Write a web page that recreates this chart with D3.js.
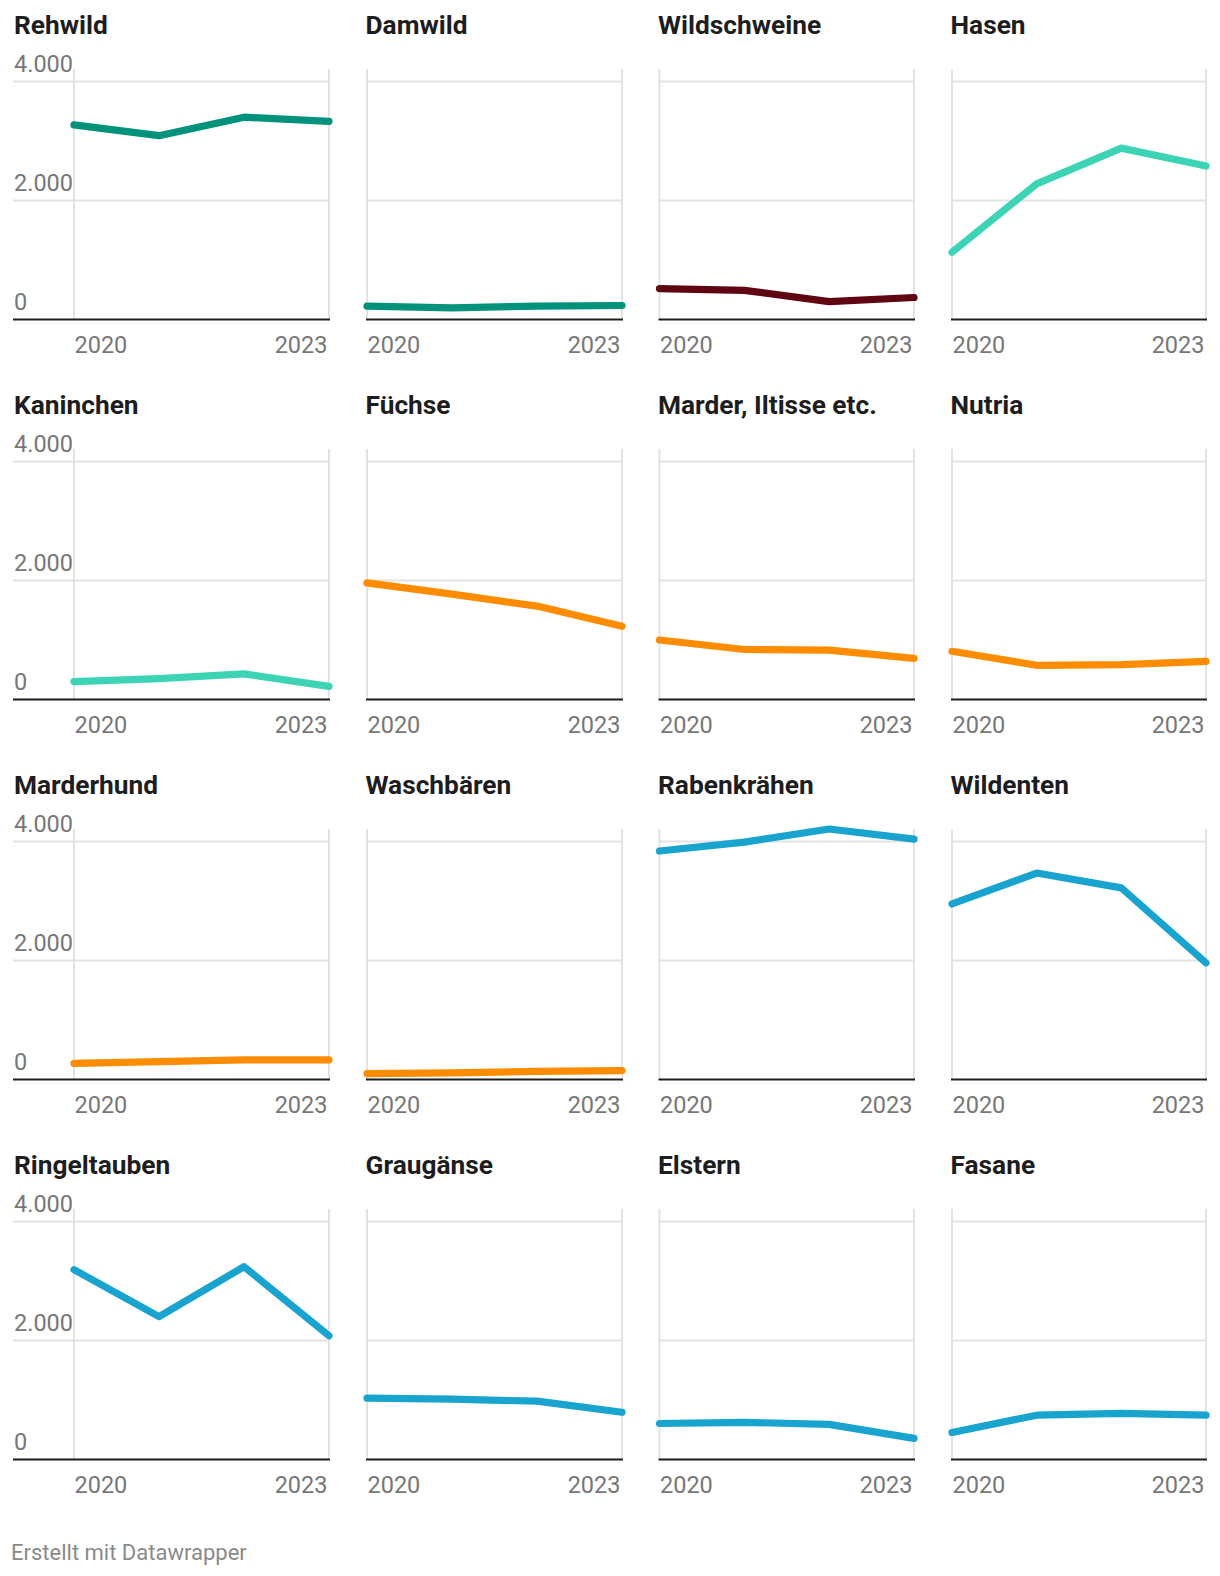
<!DOCTYPE html>
<html>
<head>
<meta charset="utf-8">
<script src="https://cdn.jsdelivr.net/npm/d3@7"></script>
<style>
  html, body { margin: 0; padding: 0; background: #fff; }
  svg { display: block; font-family: Roboto, "Noto Sans", sans-serif; }
</style>
</head>
<body>
<svg id="chart" width="1220" height="1576"></svg>
<script>
// ---- data ----
const years = [2020, 2021, 2022, 2023];
const yearTickLabels = [2020, 2023];
const yTicks = [0, 2000, 4000];
const species = [
  "Rehwild", "Damwild", "Wildschweine", "Hasen",
  "Kaninchen", "Füchse", "Marder, Iltisse etc.", "Nutria",
  "Marderhund", "Waschbären", "Rabenkrähen", "Wildenten",
  "Ringeltauben", "Graugänse", "Elstern", "Fasane"
];
const rehwild      = [3270, 3090, 3400, 3330];
const damwild      = [225, 195, 225, 235];
const wildschweine = [520, 490, 300, 370];
const hasen        = [1130, 2280, 2880, 2580];
const kaninchen    = [300, 350, 430, 220];
const fuechse      = [1960, 1770, 1570, 1230];
const marder       = [1000, 840, 830, 690];
const nutria       = [810, 575, 585, 640];
const marderhund   = [270, 300, 330, 330];
const waschbaeren  = [100, 110, 135, 150];
const rabenkraehen = [3840, 3990, 4210, 4040];
const wildenten    = [2950, 3470, 3220, 1960];
const ringeltauben = [3190, 2400, 3240, 2080];
const graugaense   = [1030, 1015, 980, 795];
const elstern      = [605, 625, 590, 355];
const fasane       = [455, 745, 775, 745];
const seriesValues = [
  rehwild, damwild, wildschweine, hasen,
  kaninchen, fuechse, marder, nutria,
  marderhund, waschbaeren, rabenkraehen, wildenten,
  ringeltauben, graugaense, elstern, fasane
];
const groups = [
  "schalen", "schalen", "schwein", "hase",
  "hase", "raub", "raub", "raub",
  "raub", "raub", "vogel", "vogel",
  "vogel", "vogel", "vogel", "vogel"
];
const groupColors = {
  schalen: "#00927a",
  schwein: "#600612",
  hase: "#3dd4b6",
  raub: "#fd8c00",
  vogel: "#19a3cf"
};

// ---- layout ----
const svg = d3.select("#chart");
const colLeft = [74, 367, 659.5, 952];
const colRight = [329, 622, 914, 1206];
const rowStep = 380;
const baseY = 319.5;
const topY = 81.5;
const gridTop = 69;
const fmt = d3.format(",");
const deFmt = v => fmt(v).replace(/,/g, ".");

species.forEach((name, i) => {
  const col = i % 4, row = Math.floor(i / 4);
  const oy = row * rowStep;
  const x = d3.scaleLinear().domain([2020, 2023]).range([colLeft[col], colRight[col]]);
  const y = d3.scaleLinear().domain([0, 4000]).range([baseY + oy, topY + oy]);
  const g = svg.append("g");
  const gridLeft = col === 0 ? 13 : colLeft[col] - 1;

  // title
  g.append("text")
    .attr("x", col === 0 ? 14 : colLeft[col] - 1.5)
    .attr("y", 33.5 + oy)
    .attr("font-size", 26.3)
    .attr("font-weight", 700)
    .attr("fill", "#1d1d1d")
    .text(name);

  // horizontal gridlines
  g.selectAll("line.hg").data(yTicks.filter(t => t > 0)).join("line")
    .attr("x1", gridLeft).attr("x2", colRight[col] + 1)
    .attr("y1", d => y(d)).attr("y2", d => y(d))
    .attr("stroke", "#e3e3e3").attr("stroke-width", 2);

  // vertical gridlines at labelled years
  g.selectAll("line.vg").data(yearTickLabels).join("line")
    .attr("x1", d => x(d)).attr("x2", d => x(d))
    .attr("y1", gridTop + oy).attr("y2", baseY + oy)
    .attr("stroke", "#e3e3e3").attr("stroke-width", 2);

  // y labels (first column only)
  if (col === 0) {
    g.selectAll("text.yl").data(yTicks).join("text")
      .attr("x", 14)
      .attr("y", d => y(d) - 10)
      .attr("font-size", 23.5)
      .attr("fill", "#777")
      .text(d => deFmt(d));
  }

  // x axis
  const xAxis = d3.axisBottom(x).tickValues(yearTickLabels).tickFormat(d3.format("d")).tickSize(0).tickPadding(0);
  const ax = g.append("g").attr("transform", `translate(0,${baseY + oy})`).call(xAxis);
  ax.select(".domain").remove();
  ax.selectAll("text")
    .attr("font-size", 23.5)
    .attr("font-family", "Roboto, sans-serif")
    .attr("fill", "#777")
    .attr("dy", 0)
    .attr("y", 33.5)
    .attr("text-anchor", (d, k) => k === 0 ? "start" : "end")
    .attr("dx", (d, k) => k === 0 ? 0 : -2);

  // baseline
  g.append("line")
    .attr("x1", gridLeft).attr("x2", colRight[col] + 1)
    .attr("y1", y(0)).attr("y2", y(0))
    .attr("stroke", "#1d1d1d").attr("stroke-width", 2);

  // data line
  const line = d3.line().x((d, k) => x(years[k])).y(d => y(d));
  g.append("path")
    .datum(seriesValues[i])
    .attr("d", line)
    .attr("fill", "none")
    .attr("stroke", groupColors[groups[i]])
    .attr("stroke-width", 7.2)
    .attr("stroke-linecap", "round")
    .attr("stroke-linejoin", "round");
});

svg.append("text")
  .attr("x", 11).attr("y", 1560)
  .attr("font-size", 22)
  .attr("fill", "#8a8a8a")
  .text("Erstellt mit Datawrapper");
</script>
</body>
</html>
